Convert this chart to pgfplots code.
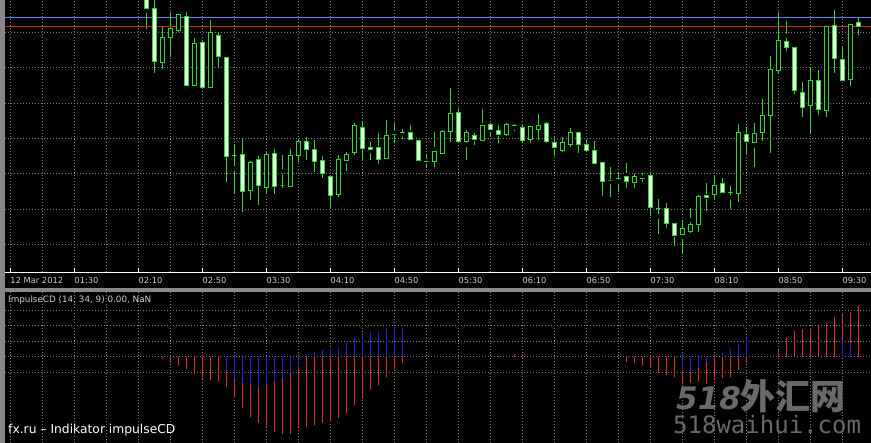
\documentclass[border=0pt]{standalone}
\usepackage{fontspec}
\setmainfont{DejaVu Sans}
\newfontfamily\monofont{DejaVu Sans Mono}
\newfontfamily\cjk{Noto Sans CJK SC}
\usepackage{pgfplots}
\usepackage{pgfplotstable}
\pgfplotsset{compat=1.18}
\definecolor{cgreen}{RGB}{45,215,45}
\definecolor{cfill}{RGB}{225,255,225}
\definecolor{gridgray}{RGB}{125,125,125}
\definecolor{framegray}{RGB}{135,135,135}
\definecolor{lblgray}{RGB}{205,205,205}
\definecolor{hred}{RGB}{215,45,40}
\definecolor{hblue}{RGB}{30,30,205}
\definecolor{levelblue}{RGB}{95,135,255}
\definecolor{linered}{RGB}{200,40,40}
\definecolor{wm}{RGB}{105,105,105}

% candles: k = bar index, o h l c = levels in pixels from the top of the price window
\pgfplotstableread{
k o h l c
0 -2 -8 29.3 8.3
1 8.3 -3 73.3 61.7
2 62.7 26.7 69 37.3
3 37.7 12.3 56.7 28.3
4 30 14 31.7 14.3
5 16.7 12.3 86 85
6 85 38.3 86 43.3
7 42.3 41.3 88 87.7
8 87.7 20 88 32.3
9 35 33.3 68.3 56.7
10 57.3 57 181.7 156.7
11 155.3 144 192.7 155.3
12 154.3 137.7 211.7 191.7
13 190 161 200 162.3
14 159.3 156 205 185.7
15 187.7 151.7 194.3 154
16 153.3 149 194 186.7
17 185 155 187.7 185
18 186.7 149.3 187 155
19 155.7 139 161.7 141.7
20 141 136.7 160 149
21 149.3 140 171.7 161.7
22 160 156 178.3 173.3
23 176 175 207.7 195.7
24 194 155 197.3 159.3
25 160 151.7 170.7 154
26 152.7 123.3 155 125
27 127.3 121 160 148.3
28 147.3 142.3 160 149.3
29 147.7 133.3 164 159.3
30 158.3 120 159 135
31 134 122.7 143.3 134
32 132.7 129.3 139.3 132.7
33 132.3 125 140 139.3
34 140.7 140 161 160.7
35 161 154.3 168.3 161
36 161.7 131.7 166.7 151.7
37 153.3 130 153.3 131.7
38 131.7 88.3 141.7 113.3
39 112.3 108.3 143.3 141
40 141.7 130 160 132.7
41 135.3 133.3 145 139
42 140 109.3 140.7 125
43 124.3 122.7 137.3 129.3
44 130 125 142.7 134.3
45 134 122.7 136 124.3
46 125.7 124.3 130.7 125.7
47 127.3 125 142.7 140.7
48 139 126 143.3 126.7
49 129 114 140 125
50 123.3 121.7 143 141.7
51 142.3 137.3 156 147.3
52 150 137.3 151.7 142.3
53 144.3 128.3 146.7 132.3
54 132.3 131.7 152.7 144
55 144.3 140 151.7 150
56 150 140.7 163.3 163.3
57 162.3 162.3 196 181.7
58 180 166.7 196.7 180
59 178.3 171.7 191.7 178.3
60 176.7 162.7 188.3 181.7
61 182.7 174 188.3 176
62 178.3 173.3 181.7 178.3
63 175 172.7 216 207.7
64 208.3 199 234 208.3
65 208.3 203.3 228.3 223.3
66 223.3 223.3 246 235
67 234 220 254 228.3
68 231.7 207.7 232.7 224.3
69 224.3 195 231.7 196.7
70 195 182.7 210.7 197.7
71 194.3 175 199 185
72 183.3 178.3 193 192.3
73 192.3 186 209 192.3
74 193.3 124 201.7 132.3
75 134.3 126.7 154 141.7
76 142.7 123.3 167.3 133.3
77 132.3 99 140.7 115
78 115 56 152.7 69
79 70 11.7 72.7 40
80 41 21 50.7 47.7
81 47.3 47.3 94 90.7
82 92.3 81.7 117.3 107.3
83 105.7 68.3 134 80
84 80 70 115 109.3
85 110.7 26.7 116.7 26.7
86 25 10 72.7 58.3
87 59.3 46 81 80
88 79 24.3 86 24.3
89 22.7 18.3 35 26
}\candles

% ImpulseCD histogram (pixels above the zero line)
\pgfplotstableread{
k v
2 -2.3
3 -6
4 -9
5 -12.3
6 -17.7
7 -22
8 -23.3
9 -24.3
10 -30.7
11 -41.7
12 -51.7
13 -60
14 -66.7
15 -71.7
16 -75
17 -77.3
18 -77.7
19 -70.7
20 -70
21 -68.3
22 -66.7
23 -65
24 -61.7
25 -56.7
26 -48.3
27 -40
28 -33.3
29 -28.3
30 -20.7
31 -12.3
32 -6
44 1
45 1
46 2.7
47 -1
59 -1.7
60 -5
61 -6.7
62 -9.3
63 -11.7
64 -16
65 -18.3
66 -20.7
67 -27.3
68 -26.7
69 -25
70 -27.3
71 -23.3
72 -21.7
73 -20
74 -13.3
75 -6
79 6.7
80 19
81 26
82 27.7
83 29
84 31
85 34
86 40
87 43.3
88 45
89 51
}\histred

\pgfplotstableread{
k v
10 -13.3
11 -21.7
12 -26
13 -28.3
14 -30
15 -27.3
16 -25
17 -21.7
18 -16.7
19 -10
20 2.3
21 4.3
22 6.7
23 7.7
24 9.3
25 13.3
26 19
27 23.3
28 25
29 26
30 28.3
31 30
32 29
67 -14.3
68 -15
69 -11.7
70 -5
71 0.7
72 4
73 7.3
74 12.3
75 18.3
87 15
88 13.3
}\histblue

\pgfplotsset{
  mtgrid/.style={grid style={gridgray, dash pattern=on 1pt off 2pt, line width=0.6pt}},
}

\begin{document}
\begin{tikzpicture}[x=1pt,y=1pt]
\useasboundingbox (0,0) rectangle (871,443);
\clip (0,0) rectangle (871,443);
\fill[framegray] (0,0) rectangle (871,443);
\fill[black] (5,155) rectangle (871,443);
\fill[black] (5,0) rectangle (871,151);

% ---------------- price window ----------------
\begin{axis}[
  at={(5pt,171pt)}, anchor=south west,
  scale only axis, width=866pt, height=272pt,
  xmin=-17.6625, xmax=90.5875, ymin=0, ymax=272,
  axis line style={draw=none},
  xtick={-17,-9,...,87},
  xticklabels={12 Mar 2012,01:30,02:10,02:50,03:30,04:10,04:50,05:30,06:10,06:50,07:30,08:10,08:50,09:30},
  minor xtick={-13,-5,...,91},
  xtick pos=left,
  tick align=inside,
  major tick length=4pt,
  minor tick length=0pt,
  major x tick style={white, line width=0.8pt},
  ytick={27.7,63,98.3,133.7,168.7,204.3,239.7},
  yticklabels={},
  major y tick style={draw=none},
  grid=both, mtgrid,
  minor grid style={gridgray, dash pattern=on 1pt off 2pt, line width=0.6pt},
  xticklabel style={anchor=north west, inner sep=0pt, yshift=-5pt, text=lblgray,
    font=\fontsize{8.3}{10}\selectfont},
]
% wicks
\addplot[only marks, mark=none, forget plot,
  error bars/.cd, y dir=both, y explicit, error mark=none,
  error bar style={draw=cgreen, line width=0.9pt}]
  table[x=k, y expr={272-(\thisrow{h}+\thisrow{l})/2},
        y error expr={(\thisrow{l}-\thisrow{h})/2}] {\candles};
% bodies: hollow for bull, light filled for bear
\addplot[scatter, only marks, forget plot,
  mark=*, mark size=0pt, mark options={draw=none, fill=none},
  visualization depends on={abs(\thisrow{o}-\thisrow{c})/2 \as \hh},
  visualization depends on={\thisrow{c}-\thisrow{o} \as \bear},
  scatter/@pre marker code/.code={%
    \ifdim\bear pt>0.5pt \def\bodyfill{cfill}\else\def\bodyfill{black}\fi
    \path[draw=cgreen, line width=0.9pt, fill=\bodyfill, draw opacity=1, fill opacity=1]
      (-2.25pt,-\hh pt) rectangle (2.25pt,\hh pt);
  },
  scatter/@post marker code/.code={},
  ]
  table[x=k, y expr={272-(\thisrow{o}+\thisrow{c})/2}] {\candles};
% price levels: y = 272 - pixels below the top
\addplot[draw=linered, line width=1.1pt, mark=none, forget plot]
  coordinates {(-18,245.3) (91,245.3)};
\addplot[draw=levelblue, line width=1.5pt, mark=none, forget plot, opacity=1]
  coordinates {(-18,254.7) (0,254.7) (40,254.7) (91,254.7)};
\end{axis}
\draw[white, line width=0.8pt] (5,171) -- (871,171);

% ---------------- indicator window ----------------
\begin{axis}[
  at={(5pt,0pt)}, anchor=south west,
  scale only axis, width=866pt, height=151pt,
  xmin=-17.6625, xmax=90.5875, ymin=-86.3, ymax=64.7,
  axis line style={draw=none},
  xtick={-17,-13,...,91}, xticklabels={},
  ytick={-15.3,0,15.5,31,46.3}, yticklabels={},
  major tick length=0pt,
  grid=major, mtgrid,
]
\addplot[ycomb, hred, line width=1.5pt, mark=none] table[x=k, y=v] {\histred};
\addplot[ycomb, hblue, line width=1.5pt, mark=none] table[x=k, y=v] {\histblue};
\end{axis}

\node[anchor=north west, inner sep=0pt, text=lblgray, font=\fontsize{8.8}{10}\selectfont]
  at (8,147.5) {ImpulseCD (14, 34, 9) 0.00, NaN};
\node[anchor=base west, inner sep=0pt, text=white, font=\fontsize{12.3}{14}\selectfont]
  at (8,9.7) {fx.ru – Indikator impulseCD};

% watermark
\node[anchor=base west, inner sep=0pt, text=wm] at (676,33)
  {{\fontsize{31}{34}\selectfont\bfseries\itshape 518}{\cjk\fontsize{35}{36}\selectfont\bfseries 外汇网}};
\node[anchor=base west, inner sep=0pt, text=wm, font=\monofont\fontsize{24}{26}\selectfont]
  at (673,9) {518waihui.com};
\end{tikzpicture}
\end{document}
